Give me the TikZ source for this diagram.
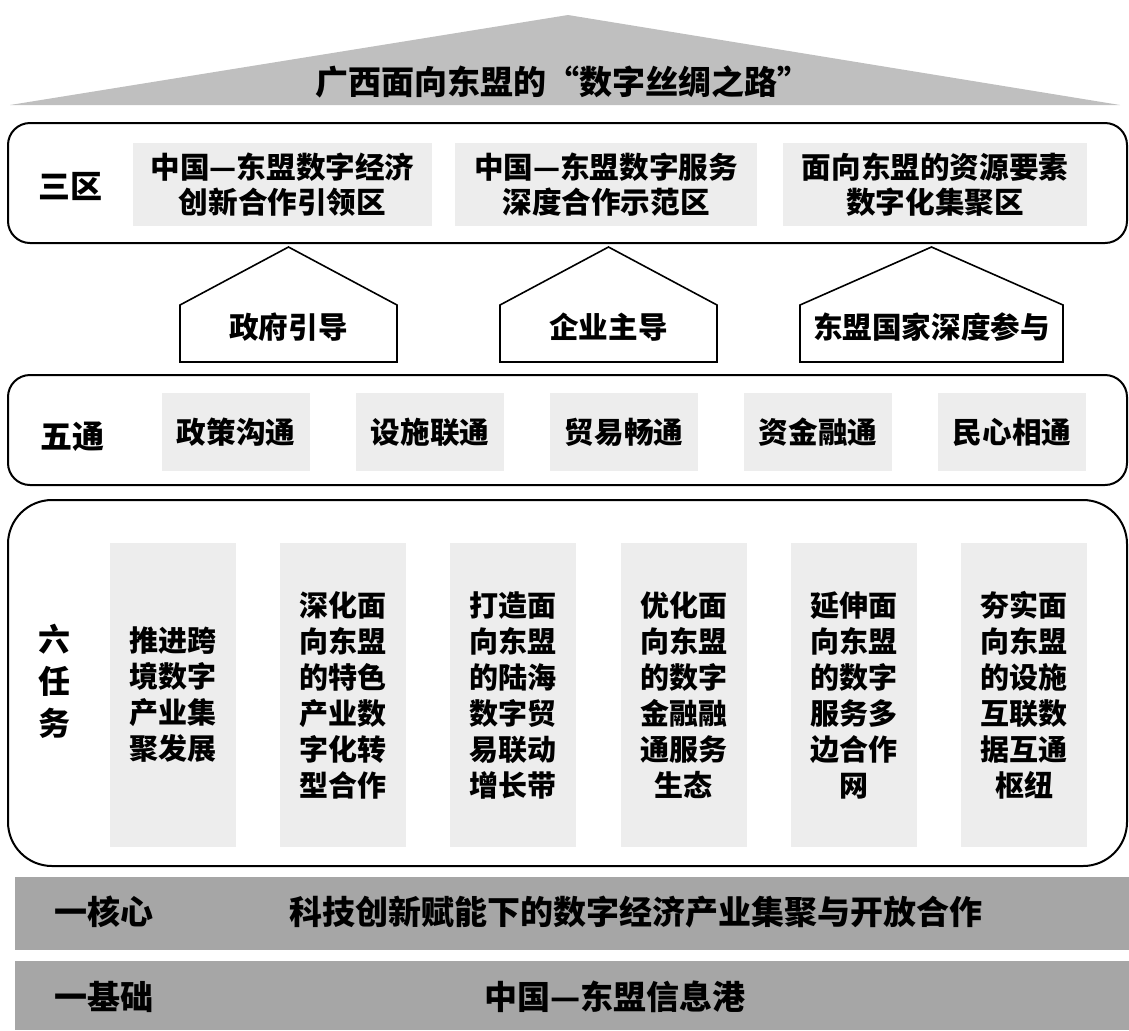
\documentclass[tikz,border=0pt]{standalone}
\usepackage{fontspec}
\setmainfont{Noto Sans CJK SC}
\usetikzlibrary{positioning}
\definecolor{roofgray}{HTML}{BFBFBF}
\definecolor{cellgray}{HTML}{EDEDED}
\definecolor{bargray}{HTML}{A6A6A6}
\tikzstyle{frame}=[draw=black,line width=1pt,rounded corners=11pt,minimum width=559.5pt,inner sep=0pt]
\tikzstyle{cell}=[fill=cellgray,inner sep=0pt,align=center,font=\fontsize{14.8}{17.5}\selectfont\bfseries]
\tikzstyle{tag}=[inner sep=0pt,align=center,font=\fontsize{16}{21}\selectfont\bfseries]
\tikzstyle{bar}=[fill=bargray,minimum width=557pt,inner sep=0pt]

\begin{document}
\begin{tikzpicture}[x=0.5pt,y=-0.5pt]
\useasboundingbox (0,0) rectangle (1129,1030);
% roof with the title
\fill[roofgray] (10,105) -- (568,15) -- (1120,105) -- cycle;
\node[tag,font=\fontsize{16.5}{20}\selectfont\bfseries] (title) at (563,82) {广西面向东盟的“数字丝绸之路”};

% three zones
\node[frame,minimum height=60pt] (zones) at (567.5,183) {};
\node[tag] (zoneslbl) at (70,186) {三区};
\node[cell,minimum width=149.5pt,minimum height=41.5pt] (zone1) at (282.5,184.5) {中国—东盟数字经济\\创新合作引领区};
\node[cell,minimum width=151pt,minimum height=41.5pt] (zone2) at (606,184.5) {中国—东盟数字服务\\深度合作示范区};
\node[cell,minimum width=152pt,minimum height=41.5pt] (zone3) at (935,184.5) {面向东盟的资源要素\\数字化集聚区};

% the three drivers
\foreach \l/\r/\name/\txt in {180/397/gov/政府引导,500/717/firm/企业主导,800/1063/asean/东盟国家深度参与}{
  \draw[line width=0.8pt,fill=white] (\l,362) -- (\l,305) -- ({(\l+\r)/2},247) -- (\r,305) -- (\r,362) -- cycle;
  \node[tag,font=\fontsize{14.8}{18}\selectfont\bfseries] (\name) at ({(\l+\r)/2},327) {\txt};
}

% five links
\node[frame,minimum height=55pt] (links) at (567.5,430) {};
\node[tag] (linkslbl) at (72,437) {五通};
\foreach \txt [count=\i] in {政策沟通,设施联通,贸易畅通,资金融通,民心相通}
  \node[cell,minimum width=74pt,minimum height=39pt] (link\i) at ({42+194*\i},432) {\txt};

% six tasks
\node[frame,rounded corners=22pt,minimum height=183pt] (tasks) at (567.5,683) {};
\node[tag] (taskslbl) at (54,681) {六\\任\\务};
\foreach \txt [count=\i] in {{推进跨\\境数字\\产业集\\聚发展},{深化面\\向东盟\\的特色\\产业数\\字化转\\型合作},{打造面\\向东盟\\的陆海\\数字贸\\易联动\\增长带},{优化面\\向东盟\\的数字\\金融融\\通服务\\生态},{延伸面\\向东盟\\的数字\\服务多\\边合作\\网},{夯实面\\向东盟\\的设施\\互联数\\据互通\\枢纽}}
  \node[cell,font=\fontsize{14.5}{18}\selectfont\bfseries,minimum width=63pt,minimum height=152pt] (task\i) at ({2.8+170.2*\i},695) {\txt};

% core and base
\node[bar,minimum height=36.5pt] (core) at (572,913.5) {};
\node[tag,font=\fontsize{16.5}{20}\selectfont\bfseries] (corelbl) at (104,912) {一核心};
\node[tag,font=\fontsize{16.5}{20}\selectfont\bfseries] (coretxt) at (636,912) {科技创新赋能下的数字经济产业集聚与开放合作};
\node[bar,minimum height=34.5pt] (base) at (572,995.5) {};
\node[tag,font=\fontsize{16.5}{20}\selectfont\bfseries] (baselbl) at (104,997) {一基础};
\node[tag,font=\fontsize{16.5}{20}\selectfont\bfseries] (basetxt) at (615,997) {中国—东盟信息港};
\end{tikzpicture}
\end{document}
